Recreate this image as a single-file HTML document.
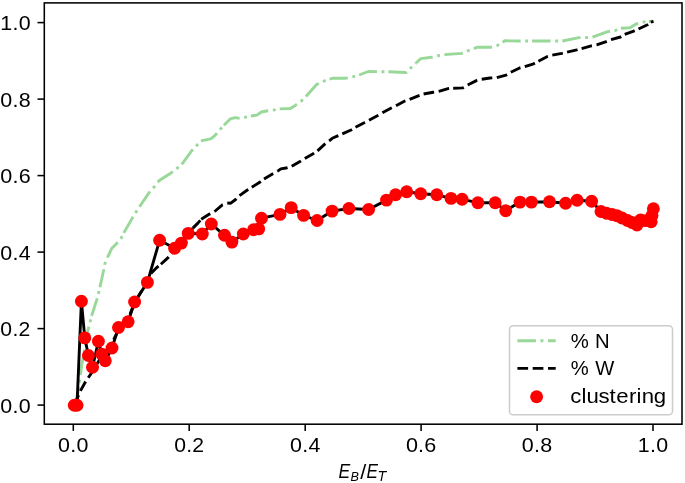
<!DOCTYPE html><html><head><meta charset="utf-8"><style>
html,body{margin:0;padding:0;background:#fff;width:685px;height:483px;overflow:hidden}
svg{display:block;will-change:transform}
text{font-family:"Liberation Sans",sans-serif;fill:#000;font-kerning:none}
</style></head><body>
<svg width="685" height="483" viewBox="0 0 685 483">
<rect width="685" height="483" fill="#fff"/>
<defs><clipPath id="ax"><rect x="44.3" y="2.9" width="637.7" height="421.3"/></clipPath></defs>
<g clip-path="url(#ax)">
<polyline points="74.5,405.0 77.5,395.0 81.6,366.0 84.5,350.0 88.0,330.0 91.6,315.9" fill="none" stroke="#98d898" stroke-width="2.9" stroke-dasharray="18.5 4.6 2.9 4.6" stroke-linejoin="round" stroke-linecap="butt"/>
<polyline points="91.6,315.9 96.8,299.7 98.4,293.5 99.9,287.3" fill="none" stroke="#98d898" stroke-width="2.9" stroke-dasharray="18.5 4.6 2.9 4.6" stroke-linejoin="round" stroke-linecap="butt"/>
<polyline points="99.9,287.3 103.6,270.5 104.9,263.7 107.5,257.4" fill="none" stroke="#98d898" stroke-width="2.9" stroke-dasharray="18.5 4.6 2.9 4.6" stroke-linejoin="round" stroke-linecap="butt"/>
<polyline points="107.5,257.4 111.8,248.3 116.4,243.7 120.9,238.6 123.8,232.9" fill="none" stroke="#98d898" stroke-width="2.9" stroke-dasharray="18.5 4.6 2.9 4.6" stroke-linejoin="round" stroke-linecap="butt"/>
<polyline points="123.8,232.9 132.3,218.1 135.8,212.4 139.5,206.8" fill="none" stroke="#98d898" stroke-width="2.9" stroke-dasharray="18.5 4.6 2.9 4.6" stroke-linejoin="round" stroke-linecap="butt"/>
<polyline points="139.5,206.8 149.0,192.8 153.5,187.8 157.6,182.1" fill="none" stroke="#98d898" stroke-width="2.9" stroke-dasharray="18.5 4.6 2.9 4.6" stroke-linejoin="round" stroke-linecap="butt"/>
<polyline points="157.6,182.1 160.8,179.4 171.1,172.9 176.4,168.8 181.8,164.3" fill="none" stroke="#98d898" stroke-width="2.9" stroke-dasharray="18.5 4.6 2.9 4.6" stroke-linejoin="round" stroke-linecap="butt"/>
<polyline points="181.8,164.3 191.5,151.0 196.2,146.0 200.9,140.8" fill="none" stroke="#98d898" stroke-width="2.9" stroke-dasharray="18.5 4.6 2.9 4.6" stroke-linejoin="round" stroke-linecap="butt"/>
<polyline points="200.9,140.8 210.7,138.9 215.1,135.3 219.5,130.1 223.9,125.2" fill="none" stroke="#98d898" stroke-width="2.9" stroke-dasharray="18.5 4.6 2.9 4.6" stroke-linejoin="round" stroke-linecap="butt"/>
<polyline points="223.9,125.2 230.5,118.8 234.9,117.6 238.5,118.1 244.6,117.4 250.9,116.0" fill="none" stroke="#98d898" stroke-width="2.9" stroke-dasharray="18.5 4.6 2.9 4.6" stroke-linejoin="round" stroke-linecap="butt"/>
<polyline points="250.9,116.0 256.9,115.1 261.3,112.0 266.5,111.0 273.4,110.1 279.7,108.9" fill="none" stroke="#98d898" stroke-width="2.9" stroke-dasharray="18.5 4.6 2.9 4.6" stroke-linejoin="round" stroke-linecap="butt"/>
<polyline points="279.7,108.9 290.3,108.5 295.2,105.4 301.0,101.4 305.9,96.5" fill="none" stroke="#98d898" stroke-width="2.9" stroke-dasharray="18.5 4.6 2.9 4.6" stroke-linejoin="round" stroke-linecap="butt"/>
<polyline points="305.9,96.5 316.6,84.5 323.3,81.3 329.5,79.1" fill="none" stroke="#98d898" stroke-width="2.9" stroke-dasharray="18.5 4.6 2.9 4.6" stroke-linejoin="round" stroke-linecap="butt"/>
<polyline points="329.5,79.1 333.1,78.2 345.9,78.2 352.5,76.9 359.1,75.0" fill="none" stroke="#98d898" stroke-width="2.9" stroke-dasharray="18.5 4.6 2.9 4.6" stroke-linejoin="round" stroke-linecap="butt"/>
<polyline points="359.1,75.0 368.3,71.5 375.7,71.6 382.3,71.8 388.4,71.8" fill="none" stroke="#98d898" stroke-width="2.9" stroke-dasharray="18.5 4.6 2.9 4.6" stroke-linejoin="round" stroke-linecap="butt"/>
<polyline points="388.4,71.8 406.3,72.5 411.0,67.7 416.0,63.0" fill="none" stroke="#98d898" stroke-width="2.9" stroke-dasharray="18.5 4.6 2.9 4.6" stroke-linejoin="round" stroke-linecap="butt"/>
<polyline points="416.0,63.0 420.8,58.6 431.7,57.3 437.8,55.8 444.4,54.6" fill="none" stroke="#98d898" stroke-width="2.9" stroke-dasharray="18.5 4.6 2.9 4.6" stroke-linejoin="round" stroke-linecap="butt"/>
<polyline points="444.4,54.6 461.6,53.4 467.6,50.8 473.9,48.6" fill="none" stroke="#98d898" stroke-width="2.9" stroke-dasharray="18.5 4.6 2.9 4.6" stroke-linejoin="round" stroke-linecap="butt"/>
<polyline points="473.9,48.6 477.4,47.1 490.5,47.3 496.7,45.8 502.8,42.5" fill="none" stroke="#98d898" stroke-width="2.9" stroke-dasharray="18.5 4.6 2.9 4.6" stroke-linejoin="round" stroke-linecap="butt"/>
<polyline points="502.8,42.5 504.5,40.8 519.4,41.0 525.8,41.0 532.1,41.0" fill="none" stroke="#98d898" stroke-width="2.9" stroke-dasharray="18.5 4.6 2.9 4.6" stroke-linejoin="round" stroke-linecap="butt"/>
<polyline points="532.1,41.0 549.7,41.0 555.8,41.0 562.4,41.0" fill="none" stroke="#98d898" stroke-width="2.9" stroke-dasharray="18.5 4.6 2.9 4.6" stroke-linejoin="round" stroke-linecap="butt"/>
<polyline points="562.4,41.0 579.0,37.6 585.5,37.6 592.5,37.2" fill="none" stroke="#98d898" stroke-width="2.9" stroke-dasharray="18.5 4.6 2.9 4.6" stroke-linejoin="round" stroke-linecap="butt"/>
<polyline points="592.5,37.2 607.7,31.6 614.8,30.7 620.9,28.3" fill="none" stroke="#98d898" stroke-width="2.9" stroke-dasharray="18.5 4.6 2.9 4.6" stroke-linejoin="round" stroke-linecap="butt"/>
<polyline points="620.9,28.3 630.0,27.8 636.1,24.0 642.3,22.1 648.9,21.5" fill="none" stroke="#98d898" stroke-width="2.9" stroke-dasharray="18.5 4.6 2.9 4.6" stroke-linejoin="round" stroke-linecap="butt"/>
<polyline points="648.9,21.5 653.3,21.3" fill="none" stroke="#98d898" stroke-width="2.9" stroke-dasharray="18.5 4.6 2.9 4.6" stroke-linejoin="round" stroke-linecap="butt"/>
<polyline points="74.5,405.0 80.0,391.7 84.8,383.0 87.4,379.0 91.5,373.0 100.0,359.0 112.0,343.0 119.0,329.0 128.0,319.0 135.0,302.0 147.0,282.0 149.3,275.2 156.8,267.5 160.9,264.3" fill="none" stroke="#000" stroke-width="2.9" stroke-dasharray="10.7 4.6" stroke-linejoin="round" stroke-linecap="butt"/>
<polyline points="160.9,264.3 168.6,257.1 192.9,228.1" fill="none" stroke="#000" stroke-width="2.9" stroke-dasharray="10.7 4.6" stroke-linejoin="round" stroke-linecap="butt"/>
<polyline points="192.9,228.1 198.1,222.9 201.2,219.3" fill="none" stroke="#000" stroke-width="2.9" stroke-dasharray="10.7 4.6" stroke-linejoin="round" stroke-linecap="butt"/>
<polyline points="201.2,219.3 209.5,214.1 214.6,211.5" fill="none" stroke="#000" stroke-width="2.9" stroke-dasharray="10.7 4.6" stroke-linejoin="round" stroke-linecap="butt"/>
<polyline points="214.6,211.5 222.4,204.8 227.3,203.0" fill="none" stroke="#000" stroke-width="2.9" stroke-dasharray="10.7 4.6" stroke-linejoin="round" stroke-linecap="butt"/>
<polyline points="227.3,203.0 230.8,203.2 235.6,199.5 239.5,195.6" fill="none" stroke="#000" stroke-width="2.9" stroke-dasharray="10.7 4.6" stroke-linejoin="round" stroke-linecap="butt"/>
<polyline points="239.5,195.6 247.0,190.3 251.8,187.3" fill="none" stroke="#000" stroke-width="2.9" stroke-dasharray="10.7 4.6" stroke-linejoin="round" stroke-linecap="butt"/>
<polyline points="251.8,187.3 260.1,182.0 264.0,179.0" fill="none" stroke="#000" stroke-width="2.9" stroke-dasharray="10.7 4.6" stroke-linejoin="round" stroke-linecap="butt"/>
<polyline points="264.0,179.0 272.9,173.7 277.7,171.1" fill="none" stroke="#000" stroke-width="2.9" stroke-dasharray="10.7 4.6" stroke-linejoin="round" stroke-linecap="butt"/>
<polyline points="277.7,171.1 280.8,168.9 286.0,168.0 291.7,166.3" fill="none" stroke="#000" stroke-width="2.9" stroke-dasharray="10.7 4.6" stroke-linejoin="round" stroke-linecap="butt"/>
<polyline points="291.7,166.3 300.0,161.5 304.8,158.4" fill="none" stroke="#000" stroke-width="2.9" stroke-dasharray="10.7 4.6" stroke-linejoin="round" stroke-linecap="butt"/>
<polyline points="304.8,158.4 312.7,154.0 317.5,150.9" fill="none" stroke="#000" stroke-width="2.9" stroke-dasharray="10.7 4.6" stroke-linejoin="round" stroke-linecap="butt"/>
<polyline points="317.5,150.9 324.5,144.4 329.2,140.9" fill="none" stroke="#000" stroke-width="2.9" stroke-dasharray="10.7 4.6" stroke-linejoin="round" stroke-linecap="butt"/>
<polyline points="329.2,140.9 332.3,138.3 337.1,136.1 342.3,133.9" fill="none" stroke="#000" stroke-width="2.9" stroke-dasharray="10.7 4.6" stroke-linejoin="round" stroke-linecap="butt"/>
<polyline points="342.3,133.9 351.1,130.0 355.5,127.3" fill="none" stroke="#000" stroke-width="2.9" stroke-dasharray="10.7 4.6" stroke-linejoin="round" stroke-linecap="butt"/>
<polyline points="355.5,127.3 364.7,122.5 369.0,120.3" fill="none" stroke="#000" stroke-width="2.9" stroke-dasharray="10.7 4.6" stroke-linejoin="round" stroke-linecap="butt"/>
<polyline points="369.0,120.3 377.8,115.5 382.4,112.8" fill="none" stroke="#000" stroke-width="2.9" stroke-dasharray="10.7 4.6" stroke-linejoin="round" stroke-linecap="butt"/>
<polyline points="382.4,112.8 391.2,108.0 396.0,105.8" fill="none" stroke="#000" stroke-width="2.9" stroke-dasharray="10.7 4.6" stroke-linejoin="round" stroke-linecap="butt"/>
<polyline points="396.0,105.8 404.8,101.0 409.6,99.3" fill="none" stroke="#000" stroke-width="2.9" stroke-dasharray="10.7 4.6" stroke-linejoin="round" stroke-linecap="butt"/>
<polyline points="409.6,99.3 418.3,95.8 423.6,94.0" fill="none" stroke="#000" stroke-width="2.9" stroke-dasharray="10.7 4.6" stroke-linejoin="round" stroke-linecap="butt"/>
<polyline points="423.6,94.0 433.2,92.3 438.8,91.3" fill="none" stroke="#000" stroke-width="2.9" stroke-dasharray="10.7 4.6" stroke-linejoin="round" stroke-linecap="butt"/>
<polyline points="438.8,91.3 448.0,88.6 453.2,88.2" fill="none" stroke="#000" stroke-width="2.9" stroke-dasharray="10.7 4.6" stroke-linejoin="round" stroke-linecap="butt"/>
<polyline points="453.2,88.2 462.8,87.9 467.7,85.0" fill="none" stroke="#000" stroke-width="2.9" stroke-dasharray="10.7 4.6" stroke-linejoin="round" stroke-linecap="butt"/>
<polyline points="467.7,85.0 476.4,80.6 481.7,79.2" fill="none" stroke="#000" stroke-width="2.9" stroke-dasharray="10.7 4.6" stroke-linejoin="round" stroke-linecap="butt"/>
<polyline points="481.7,79.2 490.0,78.0 496.8,77.6" fill="none" stroke="#000" stroke-width="2.9" stroke-dasharray="10.7 4.6" stroke-linejoin="round" stroke-linecap="butt"/>
<polyline points="496.8,77.6 506.0,75.2 510.8,72.3" fill="none" stroke="#000" stroke-width="2.9" stroke-dasharray="10.7 4.6" stroke-linejoin="round" stroke-linecap="butt"/>
<polyline points="510.8,72.3 519.6,68.0 524.8,66.6" fill="none" stroke="#000" stroke-width="2.9" stroke-dasharray="10.7 4.6" stroke-linejoin="round" stroke-linecap="butt"/>
<polyline points="524.8,66.6 533.6,63.8 538.4,61.2" fill="none" stroke="#000" stroke-width="2.9" stroke-dasharray="10.7 4.6" stroke-linejoin="round" stroke-linecap="butt"/>
<polyline points="538.4,61.2 547.4,56.5 552.3,55.1" fill="none" stroke="#000" stroke-width="2.9" stroke-dasharray="10.7 4.6" stroke-linejoin="round" stroke-linecap="butt"/>
<polyline points="552.3,55.1 561.9,53.4 567.1,52.1" fill="none" stroke="#000" stroke-width="2.9" stroke-dasharray="10.7 4.6" stroke-linejoin="round" stroke-linecap="butt"/>
<polyline points="567.1,52.1 576.8,49.9 581.6,48.6" fill="none" stroke="#000" stroke-width="2.9" stroke-dasharray="10.7 4.6" stroke-linejoin="round" stroke-linecap="butt"/>
<polyline points="581.6,48.6 591.2,45.9 596.7,44.9" fill="none" stroke="#000" stroke-width="2.9" stroke-dasharray="10.7 4.6" stroke-linejoin="round" stroke-linecap="butt"/>
<polyline points="596.7,44.9 606.2,41.6 611.0,39.7" fill="none" stroke="#000" stroke-width="2.9" stroke-dasharray="10.7 4.6" stroke-linejoin="round" stroke-linecap="butt"/>
<polyline points="611.0,39.7 620.5,37.0 624.7,34.4" fill="none" stroke="#000" stroke-width="2.9" stroke-dasharray="10.7 4.6" stroke-linejoin="round" stroke-linecap="butt"/>
<polyline points="624.7,34.4 633.7,31.1 638.5,29.0" fill="none" stroke="#000" stroke-width="2.9" stroke-dasharray="10.7 4.6" stroke-linejoin="round" stroke-linecap="butt"/>
<polyline points="638.5,29.0 648.0,24.5 650.8,22.1" fill="none" stroke="#000" stroke-width="2.9" stroke-dasharray="10.7 4.6" stroke-linejoin="round" stroke-linecap="butt"/>
<polyline points="650.8,22.1 653.5,21.3" fill="none" stroke="#000" stroke-width="2.9" stroke-dasharray="10.7 4.6" stroke-linejoin="round" stroke-linecap="butt"/>
<polyline points="74.3,405.2 77.0,405.2 81.4,301.2 84.8,337.9 88.4,355.5 92.5,367.2 98.4,341.3 101.8,354.1 105.3,360.8 112.0,348.0 118.5,327.5 128.1,321.7 134.6,302.0 147.4,282.4 159.6,240.3 174.6,248.2 181.4,243.1 188.2,233.4 202.3,234.0 211.3,224.0 224.5,235.3 231.9,242.1 243.3,234.0 253.6,229.8 258.7,228.9 261.5,218.2 280.0,214.4 291.2,207.6 303.6,215.4 317.1,220.5 332.1,211.1 348.9,208.5 368.6,209.5 386.5,200.1 395.6,194.7 406.7,191.7 420.7,193.8 436.8,194.8 451.0,198.4 462.1,199.3 477.9,202.7 495.2,202.7 505.7,210.7 520.0,202.1 531.4,202.1 549.5,201.7 565.6,203.2 577.1,200.2 591.6,201.2 601.0,211.5 606.5,213.2 612.0,214.5 617.0,215.8 622.0,218.0 627.5,220.5 632.0,222.5 637.0,225.0 640.5,220.0 645.5,220.6 651.2,221.8 652.0,215.5 653.4,208.7" fill="none" stroke="#000" stroke-width="2.9" stroke-linejoin="round" stroke-linecap="square"/>
<circle cx="74.3" cy="405.2" r="6.45" fill="#ff0000"/>
<circle cx="77.0" cy="405.2" r="6.45" fill="#ff0000"/>
<circle cx="81.4" cy="301.2" r="6.45" fill="#ff0000"/>
<circle cx="84.8" cy="337.9" r="6.45" fill="#ff0000"/>
<circle cx="88.4" cy="355.5" r="6.45" fill="#ff0000"/>
<circle cx="92.5" cy="367.2" r="6.45" fill="#ff0000"/>
<circle cx="98.4" cy="341.3" r="6.45" fill="#ff0000"/>
<circle cx="101.8" cy="354.1" r="6.45" fill="#ff0000"/>
<circle cx="105.3" cy="360.8" r="6.45" fill="#ff0000"/>
<circle cx="112.0" cy="348.0" r="6.45" fill="#ff0000"/>
<circle cx="118.5" cy="327.5" r="6.45" fill="#ff0000"/>
<circle cx="128.1" cy="321.7" r="6.45" fill="#ff0000"/>
<circle cx="134.6" cy="302.0" r="6.45" fill="#ff0000"/>
<circle cx="147.4" cy="282.4" r="6.45" fill="#ff0000"/>
<circle cx="159.6" cy="240.3" r="6.45" fill="#ff0000"/>
<circle cx="174.6" cy="248.2" r="6.45" fill="#ff0000"/>
<circle cx="181.4" cy="243.1" r="6.45" fill="#ff0000"/>
<circle cx="188.2" cy="233.4" r="6.45" fill="#ff0000"/>
<circle cx="202.3" cy="234.0" r="6.45" fill="#ff0000"/>
<circle cx="211.3" cy="224.0" r="6.45" fill="#ff0000"/>
<circle cx="224.5" cy="235.3" r="6.45" fill="#ff0000"/>
<circle cx="231.9" cy="242.1" r="6.45" fill="#ff0000"/>
<circle cx="243.3" cy="234.0" r="6.45" fill="#ff0000"/>
<circle cx="253.6" cy="229.8" r="6.45" fill="#ff0000"/>
<circle cx="258.7" cy="228.9" r="6.45" fill="#ff0000"/>
<circle cx="261.5" cy="218.2" r="6.45" fill="#ff0000"/>
<circle cx="280.0" cy="214.4" r="6.45" fill="#ff0000"/>
<circle cx="291.2" cy="207.6" r="6.45" fill="#ff0000"/>
<circle cx="303.6" cy="215.4" r="6.45" fill="#ff0000"/>
<circle cx="317.1" cy="220.5" r="6.45" fill="#ff0000"/>
<circle cx="332.1" cy="211.1" r="6.45" fill="#ff0000"/>
<circle cx="348.9" cy="208.5" r="6.45" fill="#ff0000"/>
<circle cx="368.6" cy="209.5" r="6.45" fill="#ff0000"/>
<circle cx="386.5" cy="200.1" r="6.45" fill="#ff0000"/>
<circle cx="395.6" cy="194.7" r="6.45" fill="#ff0000"/>
<circle cx="406.7" cy="191.7" r="6.45" fill="#ff0000"/>
<circle cx="420.7" cy="193.8" r="6.45" fill="#ff0000"/>
<circle cx="436.8" cy="194.8" r="6.45" fill="#ff0000"/>
<circle cx="451.0" cy="198.4" r="6.45" fill="#ff0000"/>
<circle cx="462.1" cy="199.3" r="6.45" fill="#ff0000"/>
<circle cx="477.9" cy="202.7" r="6.45" fill="#ff0000"/>
<circle cx="495.2" cy="202.7" r="6.45" fill="#ff0000"/>
<circle cx="505.7" cy="210.7" r="6.45" fill="#ff0000"/>
<circle cx="520.0" cy="202.1" r="6.45" fill="#ff0000"/>
<circle cx="531.4" cy="202.1" r="6.45" fill="#ff0000"/>
<circle cx="549.5" cy="201.7" r="6.45" fill="#ff0000"/>
<circle cx="565.6" cy="203.2" r="6.45" fill="#ff0000"/>
<circle cx="577.1" cy="200.2" r="6.45" fill="#ff0000"/>
<circle cx="591.6" cy="201.2" r="6.45" fill="#ff0000"/>
<circle cx="601.0" cy="211.5" r="6.45" fill="#ff0000"/>
<circle cx="606.5" cy="213.2" r="6.45" fill="#ff0000"/>
<circle cx="612.0" cy="214.5" r="6.45" fill="#ff0000"/>
<circle cx="617.0" cy="215.8" r="6.45" fill="#ff0000"/>
<circle cx="622.0" cy="218.0" r="6.45" fill="#ff0000"/>
<circle cx="627.5" cy="220.5" r="6.45" fill="#ff0000"/>
<circle cx="632.0" cy="222.5" r="6.45" fill="#ff0000"/>
<circle cx="637.0" cy="225.0" r="6.45" fill="#ff0000"/>
<circle cx="640.5" cy="220.0" r="6.45" fill="#ff0000"/>
<circle cx="645.5" cy="220.6" r="6.45" fill="#ff0000"/>
<circle cx="651.2" cy="221.8" r="6.45" fill="#ff0000"/>
<circle cx="652.0" cy="215.5" r="6.45" fill="#ff0000"/>
<circle cx="653.4" cy="208.7" r="6.45" fill="#ff0000"/>
</g>
<rect x="44.3" y="2.9" width="637.7" height="421.3" fill="none" stroke="#000" stroke-width="1.55"/>
<line x1="73.3" y1="424.2" x2="73.3" y2="430.9" stroke="#000" stroke-width="1.55"/>
<text transform="matrix(1.0887 0 0 1.0466 0 451.87)" x="53.39 64.58 70.30" y="0" font-size="19.7">0.0</text>
<line x1="44.3" y1="405.1" x2="37.5" y2="405.1" stroke="#000" stroke-width="1.55"/>
<text transform="matrix(1.0887 0 0 1.0466 0 412.77)" x="0.25 11.45 17.17" y="0" font-size="19.7">0.0</text>
<line x1="189.2" y1="424.2" x2="189.2" y2="430.9" stroke="#000" stroke-width="1.55"/>
<text transform="matrix(1.0727 0 0 1.0466 0 451.87)" x="162.34 173.66 179.27" y="0" font-size="19.7">0.2</text>
<line x1="44.3" y1="328.6" x2="37.5" y2="328.6" stroke="#000" stroke-width="1.55"/>
<text transform="matrix(1.0727 0 0 1.0466 0 336.27)" x="0.34 11.66 17.27" y="0" font-size="19.7">0.2</text>
<line x1="305.2" y1="424.2" x2="305.2" y2="430.9" stroke="#000" stroke-width="1.55"/>
<text transform="matrix(1.0883 0 0 1.0466 0 451.87)" x="266.48 277.68 283.41" y="0" font-size="19.7">0.4</text>
<line x1="44.3" y1="252.1" x2="37.5" y2="252.1" stroke="#000" stroke-width="1.55"/>
<text transform="matrix(1.0883 0 0 1.0466 0 259.77)" x="0.26 11.45 17.18" y="0" font-size="19.7">0.4</text>
<line x1="421.1" y1="424.2" x2="421.1" y2="430.9" stroke="#000" stroke-width="1.55"/>
<text transform="matrix(1.0953 0 0 1.0466 0 451.87)" x="370.58 381.72 387.39" y="0" font-size="19.7">0.6</text>
<line x1="44.3" y1="175.6" x2="37.5" y2="175.6" stroke="#000" stroke-width="1.55"/>
<text transform="matrix(1.0953 0 0 1.0466 0 183.27)" x="0.22 11.36 17.03" y="0" font-size="19.7">0.6</text>
<line x1="537.1" y1="424.2" x2="537.1" y2="430.9" stroke="#000" stroke-width="1.55"/>
<text transform="matrix(1.0909 0 0 1.0466 0 451.87)" x="478.38 489.56 495.26" y="0" font-size="19.7">0.8</text>
<line x1="44.3" y1="99.1" x2="37.5" y2="99.1" stroke="#000" stroke-width="1.55"/>
<text transform="matrix(1.0909 0 0 1.0466 0 106.77)" x="0.24 11.42 17.12" y="0" font-size="19.7">0.8</text>
<line x1="653.0" y1="424.2" x2="653.0" y2="430.9" stroke="#000" stroke-width="1.55"/>
<text transform="matrix(1.0866 0 0 1.0466 0 451.87)" x="586.87 598.19 603.93" y="0" font-size="19.7">1.0</text>
<line x1="44.3" y1="22.6" x2="37.5" y2="22.6" stroke="#000" stroke-width="1.55"/>
<text transform="matrix(1.0866 0 0 1.0466 0 30.27)" x="0.16 11.48 17.21" y="0" font-size="19.7">1.0</text>
<text transform="matrix(0.8886 0 0 1.0034 338.46 477.90)" x="0" y="0" font-size="19.7" font-style="italic">E</text>
<text transform="matrix(0.9147 0 0 0.9901 350.61 481.00)" x="0" y="0" font-size="13.8" font-style="italic">B</text>
<text transform="matrix(1.0962 0 0 1.0576 360.20 479.40)" x="0" y="0" font-size="19.7">/</text>
<text transform="matrix(0.8729 0 0 1.0034 366.57 477.90)" x="0" y="0" font-size="19.7" font-style="italic">E</text>
<text transform="matrix(1.0368 0 0 1.0217 377.61 481.00)" x="0" y="0" font-size="13.8" font-style="italic">T</text>
<rect x="509.5" y="325.7" width="163" height="89.1" rx="3.9" ry="3.9" fill="#fff" fill-opacity="0.8" stroke="#cccccc" stroke-width="1.5"/>
<line x1="517.4" y1="340.7" x2="555.7" y2="340.7" stroke="#98d898" stroke-width="2.9" stroke-dasharray="18.5 4.6 2.9 4.6"/>
<line x1="517.4" y1="368.4" x2="555.7" y2="368.4" stroke="#000" stroke-width="2.9" stroke-dasharray="10.7 4.6"/>
<circle cx="536.6" cy="396.8" r="6.45" fill="#ff0000"/>
<text transform="matrix(1.0299 0 0 1.0590 0 347.65)" x="554.27 572.17 577.78" y="0" font-size="19.7">% N</text>
<text transform="matrix(1.0256 0 0 1.0590 0 375.45)" x="556.61 574.57 580.29" y="0" font-size="19.7">% W</text>
<text transform="matrix(1.1272 0 0 1.0172 0 402.96)" x="505.85 515.89 520.37 530.97 540.79 546.76 558.00 564.71 569.25 579.99" y="0" font-size="19.7">clustering</text>
</svg></body></html>
